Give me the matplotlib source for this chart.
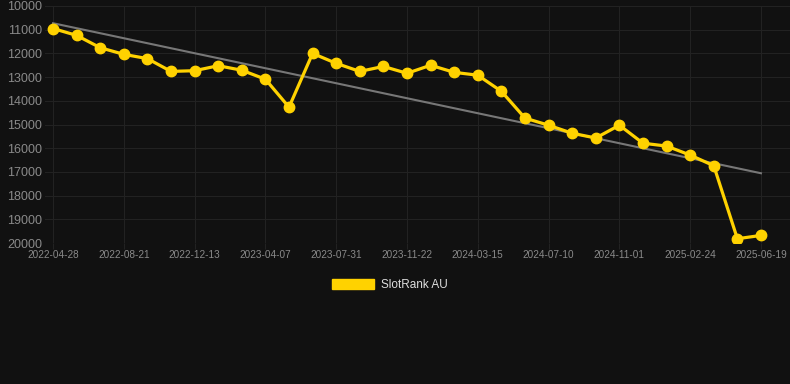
import matplotlib
matplotlib.use("Agg")
import matplotlib.pyplot as plt
import matplotlib.patches as mpatches
import numpy as np

# rank values (lower is better, axis inverted)
ranks = [10950, 11240, 11760, 12040, 12220, 12760, 12730, 12520, 12710, 13090,
         14270, 12000, 12420, 12760, 12550, 12840, 12500, 12800, 12920, 13600,
         14730, 15030, 15370, 15570, 15030, 15790, 15910, 16290, 16740, 19820,
         19680]
tick_labels = ["2022-04-28", "2022-08-21", "2022-12-13", "2023-04-07", "2023-07-31",
               "2023-11-22", "2024-03-15", "2024-07-10", "2024-11-01", "2025-02-24",
               "2025-06-19"]
y_ticks = list(range(10000, 20001, 1000))

bg = "#111111"
gold = "#FFD200"

plt.rcParams['font.family'] = ['Liberation Sans', 'DejaVu Sans']

fig = plt.figure(figsize=(7.9, 3.84), dpi=100, facecolor=bg)
ax = fig.add_axes([45 / 790, 1 - 243 / 384, 745 / 790, 237 / 384])
ax.set_facecolor(bg)

x = np.arange(len(ranks))

# linear trend
coef = np.polyfit(x, ranks, 1)
ax.plot([x[0], x[-1]], np.polyval(coef, [x[0], x[-1]]), color="#777777", lw=1.5, zorder=2)

ax.plot(x, ranks, color=gold, lw=2.3, marker="o", ms=7.5, zorder=3)

ax.set_ylim(20000, 10000)
ax.set_xlim(-0.34, len(ranks) - 1 + 1.23)
ax.set_yticks(y_ticks)
ax.set_yticklabels([str(v) for v in y_ticks])
ax.set_xticks(x[::3])
ax.set_xticklabels(tick_labels)

ax.grid(True, color="#222222", lw=0.8)
ax.set_axisbelow(True)
for s in ax.spines.values():
    s.set_visible(False)
ax.tick_params(axis="y", length=0, labelsize=9, colors="#8a8a8a", pad=2)
ax.tick_params(axis="x", length=4, labelsize=7.2, colors="#8a8a8a", pad=1, color="#222222")

handle = mpatches.Patch(color=gold, label="SlotRank AU")
leg = fig.legend(handles=[handle], loc="center", bbox_to_anchor=(390 / 790, 1 - 285 / 384),
                 frameon=False, fontsize=8.5, handlelength=3.6, handleheight=1.0,
                 handletextpad=0.6)
for t in leg.get_texts():
    t.set_color("#dddddd")

fig.savefig("out.png", dpi=100, facecolor=bg)
